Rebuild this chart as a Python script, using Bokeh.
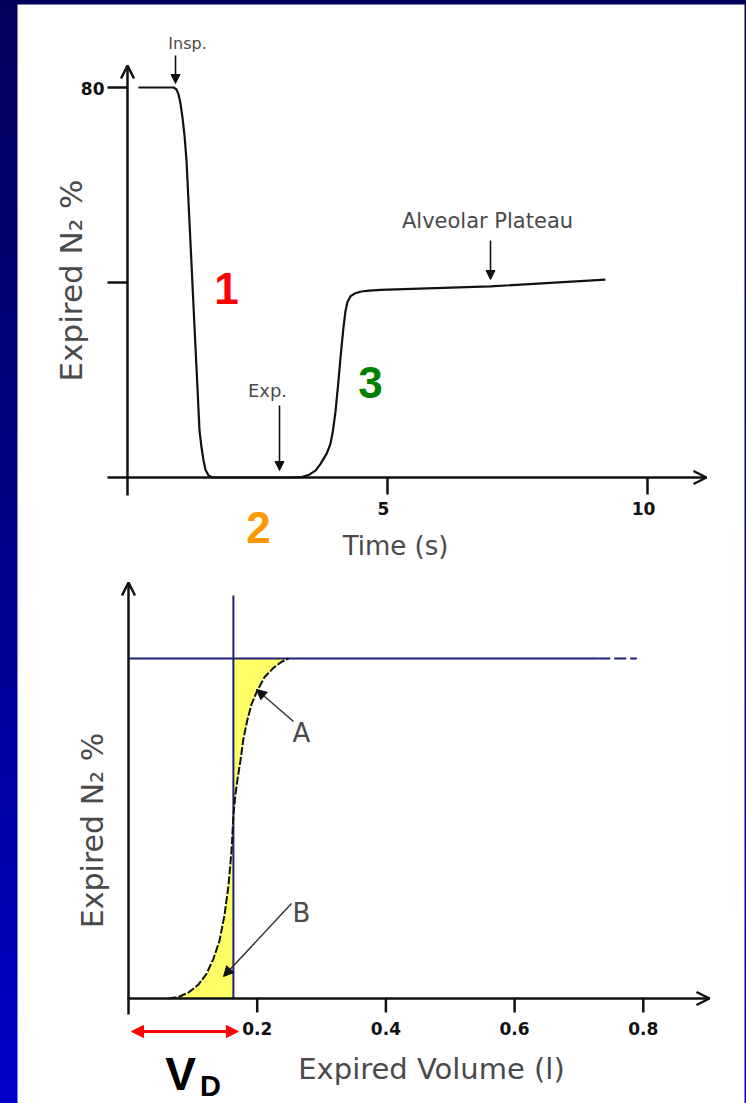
import math

from bokeh.core.properties import value
from bokeh.embed import file_html
from bokeh.models import Arrow, NormalHead, OpenHead, Range1d
from bokeh.plotting import figure
from bokeh.resources import INLINE

# ---------------- data ----------------
# Upper panel: single-breath N2 washout against time
time_s = [0.21, 0.885, 0.942, 0.981, 1.019, 1.058, 1.096, 1.135, 1.212, 1.288, 1.346,
          1.385, 1.423, 1.462, 1.50, 1.558, 1.635, 2.5, 3.13, 3.33, 3.48, 3.615, 3.712,
          3.83, 3.90, 3.95, 4.0, 4.05, 4.10, 4.15, 4.19, 4.23, 4.29, 4.38, 4.5, 4.65,
          4.865, 6.98, 9.19]
n2_time_pct = [80, 80, 79.6, 78.6, 76.7, 73.8, 70.2, 65, 48, 31, 18.3,
               9.6, 6.2, 3.5, 1.6, 0.4, 0, 0, 0, 0.06, 0.5, 1.4, 2.8,
               4.9, 6.8, 9.5, 13.5, 19, 25, 30.5, 34, 36, 37.2, 37.8, 38.15, 38.35,
               38.5, 39.2, 40.6]
time_ticks = [5, 10]
time_tick_labels = ["5", "10"]
n2_ticks = [40, 80]
n2_tick_labels = ["", "80"]

# Lower panel: Fowler dead-space curve against expired volume
volume_l = [0.0622, 0.0777, 0.0932, 0.1088, 0.1212, 0.1321, 0.1414, 0.1492, 0.1554,
            0.1601, 0.163, 0.1663, 0.1702, 0.174, 0.1787, 0.1845, 0.1911, 0.20,
            0.2113, 0.2253, 0.2378, 0.2486]
n2_vol_pct = [0, 0.18, 0.7, 1.65, 2.9, 4.7, 6.8, 9.8, 13.3,
              17.4, 21.5, 24.1, 26.2, 28, 30.6, 32.7, 34.6, 36.2,
              37.8, 38.9, 39.6, 40]
plateau_pct = 40
dead_space_l = 0.163
plateau_end_l = 0.73
plateau_dash_end_l = 0.79
volume_ticks = [0.2, 0.4, 0.6, 0.8]
volume_tick_labels = ["0.2", "0.4", "0.6", "0.8"]

# ---------------- page geometry ----------------
W, H = 746, 1103
BL, BR, BT, BB = 17, 2, 4, 0
FX0, FX1 = BL, W - BR
FY0, FY1 = BT, H - BB


def data_ranges(px0, sx, py0, sy):
    """Ranges so that a value x lands on pixel px0 + sx*x and y on py0 - sy*y."""
    xr = Range1d((FX0 - px0) / sx, (FX1 - px0) / sx)
    yr = Range1d((py0 - FY1) / sy, (py0 - FY0) / sy)
    return xr, yr


# upper chart: origin at (127, 477), 52 px per s, 4.875 px per %
T_X0, T_SX, T_Y0, T_SY = 127, 52.0, 477, 4.875
# lower chart: origin at (128, 998), 643.5 px per l, 8.5 px per %
V_X0, V_SX, V_Y0, V_SY = 128, 643.5, 998, 8.5

xr_t, yr_t = data_ranges(T_X0, T_SX, T_Y0, T_SY)
xr_v, yr_v = data_ranges(V_X0, V_SX, V_Y0, V_SY)

p = figure(width=W, height=H, title=None,
           x_range=Range1d(FX0, FX1), y_range=Range1d(FY1, FY0),
           x_axis_location=None, y_axis_location=None,
           min_border_left=BL, min_border_right=BR, min_border_top=BT, min_border_bottom=BB,
           toolbar_location=None, output_backend="svg",
           background_fill_color="white", border_fill_color=None,
           outline_line_color=None)
p.styles = {"background": "linear-gradient(to bottom, #00005c 0%, #00008a 50%, #0000c8 100%)"}
p.grid.visible = False
p.extra_x_ranges = {"t": xr_t, "v": xr_v}
p.extra_y_ranges = {"nt": yr_t, "nv": yr_v}

FONT = value("DejaVu Sans")
GREY = "#4a4a4a"
INK = "#111111"
NAVY = "#1f1f7c"

T = dict(x_range_name="t", y_range_name="nt")
V = dict(x_range_name="v", y_range_name="nv")


def t_px(px):
    return (px - T_X0) / T_SX


def n_t_px(py):
    return (T_Y0 - py) / T_SY


def v_px(px):
    return (px - V_X0) / V_SX


def n_v_px(py):
    return (V_Y0 - py) / V_SY


def add_arrow(head, x0, y0, x1, y1, names, color=INK, width=2.5, start=None):
    p.add_layout(Arrow(end=head, start=start, x_start=x0, y_start=y0, x_end=x1, y_end=y1,
                       line_color=color, line_width=width, **names))


# ================= upper chart =================
# axes
add_arrow(OpenHead(size=13, line_width=2.5, line_color=INK),
          0, n_t_px(495), 0, n_t_px(65), T)
add_arrow(OpenHead(size=13, line_width=2.5, line_color=INK),
          t_px(107), 0, t_px(706), 0, T)
p.segment(x0=[t_px(107)] * len(n2_ticks), y0=n2_ticks, x1=[0] * len(n2_ticks), y1=n2_ticks,
          line_color=INK, line_width=2.5, **T)
p.segment(x0=time_ticks, y0=[0] * len(time_ticks), x1=time_ticks,
          y1=[n_t_px(494)] * len(time_ticks), line_color=INK, line_width=2.5, **T)
p.text(x=[t_px(104)] * len(n2_ticks), y=n2_ticks, text=n2_tick_labels,
       text_align="right", text_baseline="middle", text_font=FONT, text_font_style="bold",
       text_font_size="17px", text_color=INK, y_offset=1, **T)
p.text(x=time_ticks, y=[n_t_px(508)] * len(time_ticks), text=time_tick_labels,
       text_align="center", text_baseline="middle", text_font=FONT, text_font_style="bold",
       text_font_size="17px", text_color=INK, x_offset=-4, **T)

# washout curve
p.line(time_s, n2_time_pct, line_color=INK, line_width=2.2, line_join="round", **T)

# event labels and pointers
p.text(x=[187], y=[43], text=["Insp."], text_align="center", text_baseline="middle",
       text_font=FONT, text_font_size="16px", text_color=GREY)
add_arrow(NormalHead(size=9, fill_color=INK, line_color=INK), t_px(175), n_t_px(55),
          t_px(175), n_t_px(83), T, width=1.6)
p.text(x=[267], y=[390], text=["Exp."], text_align="center", text_baseline="middle",
       text_font=FONT, text_font_size="18px", text_color=GREY)
add_arrow(NormalHead(size=9, fill_color=INK, line_color=INK), t_px(279), n_t_px(405),
          t_px(279), n_t_px(470), T, width=1.6)
p.text(x=[487], y=[220], text=["Alveolar Plateau"], text_align="center",
       text_baseline="middle", text_font=FONT, text_font_size="21px", text_color=GREY)
add_arrow(NormalHead(size=9, fill_color=INK, line_color=INK), t_px(490), n_t_px(240),
          t_px(490), n_t_px(279), T, width=1.6)

# axis titles
p.text(x=[70], y=[280], text=["Expired N\u2082 %"], angle=math.pi / 2,
       text_align="center", text_baseline="middle", text_font=FONT,
       text_font_size="31px", text_color=GREY)
p.text(x=[395], y=[545], text=["Time (s)"], text_align="center", text_baseline="middle",
       text_font=FONT, text_font_size="26px", text_color=GREY)

# phase numbers
PHASE_FONT = value("Liberation Sans")
p.text(x=[226, 258, 370], y=[288, 527, 382], text=["1", "2", "3"],
       text_color=["#ff0000", "#ff9900", "#008000"], text_align="center",
       text_baseline="middle", text_font=PHASE_FONT, text_font_style="bold",
       text_font_size="44px")

# ================= lower chart =================
split = volume_l.index(dead_space_l)
# area A: between dead-space line and curve, below plateau
p.varea(x=volume_l[split:], y1=n2_vol_pct[split:], y2=[plateau_pct] * len(volume_l[split:]),
        fill_color="#ffff66", **V)
# area B: under the curve up to the dead-space line
p.varea(x=volume_l[:split + 1], y1=[0] * (split + 1), y2=n2_vol_pct[:split + 1],
        fill_color="#ffff66", **V)

# plateau and dead-space reference lines
p.line([0, plateau_end_l], [plateau_pct, plateau_pct], line_color=NAVY, line_width=2, **V)
p.line([plateau_end_l, plateau_dash_end_l], [plateau_pct, plateau_pct], line_color=NAVY,
       line_width=2, line_dash="12 4", **V)
p.line([dead_space_l, dead_space_l], [0, n_v_px(595)], line_color=NAVY, line_width=2, **V)

# S-shaped expirogram
p.line(volume_l, n2_vol_pct, line_color=INK, line_width=2, line_dash="8 2",
       line_join="round", **V)

# axes
add_arrow(OpenHead(size=13, line_width=2.5, line_color=INK),
          0, n_v_px(1014), 0, n_v_px(582), V)
add_arrow(OpenHead(size=13, line_width=2.5, line_color=INK),
          v_px(127), 0, v_px(709), 0, V)
p.segment(x0=volume_ticks, y0=[0] * len(volume_ticks), x1=volume_ticks,
          y1=[n_v_px(1012)] * len(volume_ticks), line_color=INK, line_width=2.5, **V)
p.text(x=volume_ticks, y=[n_v_px(1028)] * len(volume_ticks), text=volume_tick_labels,
       text_align="center", text_baseline="middle", text_font=FONT, text_font_style="bold",
       text_font_size="17px", text_color=INK, **V)

# A / B callouts
p.text(x=[301, 301], y=[732, 912], text=["A", "B"], text_align="center",
       text_baseline="middle", text_font=FONT, text_font_size="26px", text_color=GREY)
add_arrow(NormalHead(size=10, fill_color=INK, line_color=INK), v_px(293), n_v_px(721),
          v_px(256), n_v_px(689), V, color="#333333", width=1.5)
add_arrow(NormalHead(size=10, fill_color=INK, line_color=INK), v_px(291), n_v_px(903),
          v_px(223), n_v_px(976), V, color="#333333", width=1.5)

# dead-space marker
add_arrow(NormalHead(size=12, fill_color="#ff0000", line_color="#ff0000"),
          v_px(131), n_v_px(1031), dead_space_l + v_px(238) - v_px(233), n_v_px(1031), V,
          color="#ff0000", width=3,
          start=NormalHead(size=12, fill_color="#ff0000", line_color="#ff0000"))
VD_FONT = value("Liberation Sans")
p.text(x=[180], y=[1073], text=["V"], text_align="center", text_baseline="middle",
       text_font=VD_FONT, text_font_style="bold", text_font_size="46px", text_color="#000000")
p.text(x=[210], y=[1085], text=["D"], text_align="center", text_baseline="middle",
       text_font=VD_FONT, text_font_style="bold", text_font_size="29px", text_color="#000000")

# axis titles
p.text(x=[92], y=[830], text=["Expired N\u2082 %"], angle=math.pi / 2,
       text_align="center", text_baseline="middle", text_font=FONT,
       text_font_size="30px", text_color=GREY)
p.text(x=[431], y=[1068], text=["Expired Volume (l)"], text_align="center",
       text_baseline="middle", text_font=FONT, text_font_size="29px", text_color=GREY)

open("out.html", "w").write(file_html(p, INLINE))
